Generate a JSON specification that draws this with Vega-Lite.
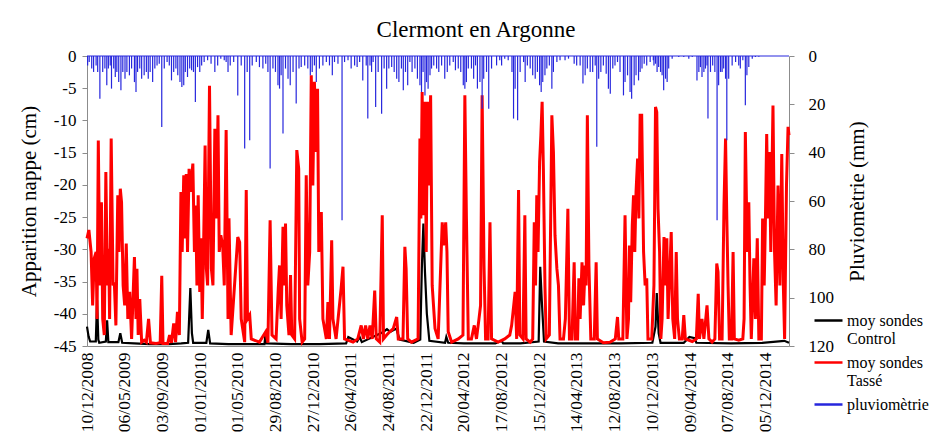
{
  "$schema": "https://vega.github.io/schema/vega-lite/v6.json",
  "width": 702,
  "height": 290,
  "autosize": "none",
  "padding": {"left": 87, "top": 56, "right": 148, "bottom": 97},
  "background": "white",
  "config": {
    "view": {"stroke": null},
    "axis": {"grid": false}
  },
  "title": {"text": "Clermont en Argonne", "font": "Liberation Serif", "fontSize": 23, "fontWeight": "normal", "color": "black", "anchor": "middle", "frame": "group", "dx": 38, "offset": 5},
  "datasets": {
    "control": [
      {"jour":0,"v":-42.0},{"jour":5,"v":-43.5},{"jour":10,"v":-44.3},{"jour":28,"v":-44.3},{"jour":32,"v":-37.9},{"jour":36,"v":-44.0},{"jour":39,"v":-44.5},{"jour":60,"v":-44.3},{"jour":64,"v":-41.0},{"jour":68,"v":-44.4},{"jour":100,"v":-44.4},{"jour":106,"v":-43.0},{"jour":112,"v":-44.5},{"jour":150,"v":-44.6},{"jour":200,"v":-44.7},{"jour":260,"v":-44.7},{"jour":300,"v":-44.6},{"jour":322,"v":-44.5},{"jour":329,"v":-36.0},{"jour":334,"v":-43.0},{"jour":338,"v":-44.5},{"jour":380,"v":-44.5},{"jour":386,"v":-42.5},{"jour":392,"v":-44.6},{"jour":450,"v":-44.7},{"jour":520,"v":-44.7},{"jour":565,"v":-44.7},{"jour":568,"v":-43.3},{"jour":572,"v":-44.6},{"jour":650,"v":-44.7},{"jour":740,"v":-44.7},{"jour":825,"v":-44.6},{"jour":832,"v":-43.6},{"jour":860,"v":-44.3},{"jour":868,"v":-43.6},{"jour":875,"v":-44.4},{"jour":940,"v":-42.9},{"jour":955,"v":-42.4},{"jour":965,"v":-42.8},{"jour":985,"v":-42.3},{"jour":995,"v":-44.0},{"jour":1040,"v":-44.5},{"jour":1061,"v":-44.0},{"jour":1066,"v":-33.0},{"jour":1071,"v":-26.0},{"jour":1076,"v":-33.5},{"jour":1082,"v":-40.0},{"jour":1090,"v":-44.2},{"jour":1140,"v":-44.5},{"jour":1144,"v":-43.6},{"jour":1150,"v":-44.5},{"jour":1200,"v":-44.6},{"jour":1260,"v":-44.6},{"jour":1300,"v":-44.6},{"jour":1320,"v":-44.2},{"jour":1325,"v":-44.6},{"jour":1380,"v":-44.6},{"jour":1438,"v":-44.3},{"jour":1443,"v":-32.7},{"jour":1448,"v":-38.0},{"jour":1455,"v":-44.3},{"jour":1500,"v":-44.6},{"jour":1600,"v":-44.6},{"jour":1700,"v":-44.6},{"jour":1800,"v":-44.5},{"jour":1810,"v":-42.0},{"jour":1814,"v":-36.8},{"jour":1820,"v":-43.0},{"jour":1826,"v":-44.5},{"jour":1900,"v":-44.5},{"jour":1918,"v":-43.6},{"jour":1935,"v":-43.8},{"jour":1940,"v":-44.5},{"jour":2050,"v":-44.6},{"jour":2150,"v":-44.5},{"jour":2220,"v":-44.2},{"jour":2235,"v":-44.5}
    ],
    "tasse": [
      {"jour":0,"v":-28.3},{"jour":6,"v":-27.0},{"jour":13,"v":-30.4},{"jour":18,"v":-38.7},{"jour":23,"v":-31.4},{"jour":29,"v":-30.4},{"jour":32,"v":-40.8},{"jour":36,"v":-13.1},{"jour":41,"v":-35.6},{"jour":46,"v":-22.7},{"jour":50,"v":-40.8},{"jour":55,"v":-43.3},{"jour":60,"v":-18.0},{"jour":65,"v":-35.6},{"jour":69,"v":-29.9},{"jour":72,"v":-40.8},{"jour":77,"v":-12.8},{"jour":83,"v":-35.6},{"jour":87,"v":-35.1},{"jour":92,"v":-41.8},{"jour":98,"v":-21.6},{"jour":102,"v":-30.4},{"jour":106,"v":-20.6},{"jour":110,"v":-22.7},{"jour":115,"v":-35.6},{"jour":120,"v":-38.7},{"jour":125,"v":-29.1},{"jour":130,"v":-40.8},{"jour":136,"v":-36.6},{"jour":142,"v":-43.9},{"jour":151,"v":-31.2},{"jour":156,"v":-40.8},{"jour":159,"v":-33.0},{"jour":163,"v":-43.3},{"jour":168,"v":-37.7},{"jour":174,"v":-44.4},{"jour":182,"v":-44.1},{"jour":189,"v":-44.4},{"jour":196,"v":-40.8},{"jour":202,"v":-44.5},{"jour":220,"v":-44.6},{"jour":233,"v":-44.5},{"jour":238,"v":-34.1},{"jour":242,"v":-44.6},{"jour":257,"v":-44.6},{"jour":263,"v":-43.3},{"jour":269,"v":-44.5},{"jour":276,"v":-41.5},{"jour":282,"v":-44.4},{"jour":288,"v":-39.7},{"jour":294,"v":-43.3},{"jour":299,"v":-21.1},{"jour":303,"v":-30.4},{"jour":308,"v":-18.5},{"jour":312,"v":-28.3},{"jour":316,"v":-18.3},{"jour":320,"v":-30.4},{"jour":325,"v":-17.5},{"jour":329,"v":-21.1},{"jour":333,"v":-19.0},{"jour":337,"v":-16.7},{"jour":342,"v":-30.4},{"jour":346,"v":-23.2},{"jour":350,"v":-35.6},{"jour":354,"v":-21.6},{"jour":359,"v":-36.6},{"jour":363,"v":-28.3},{"jour":367,"v":-40.8},{"jour":371,"v":-30.4},{"jour":376,"v":-13.9},{"jour":380,"v":-33.0},{"jour":384,"v":-35.6},{"jour":390,"v":-4.6},{"jour":396,"v":-33.0},{"jour":401,"v":-35.6},{"jour":407,"v":-11.3},{"jour":412,"v":-25.2},{"jour":417,"v":-9.2},{"jour":421,"v":-30.4},{"jour":426,"v":-27.8},{"jour":432,"v":-29.4},{"jour":437,"v":-35.6},{"jour":443,"v":-11.5},{"jour":449,"v":-40.8},{"jour":452,"v":-25.2},{"jour":459,"v":-43.3},{"jour":480,"v":-28.1},{"jour":486,"v":-28.9},{"jour":491,"v":-40.8},{"jour":502,"v":-44.4},{"jour":507,"v":-20.8},{"jour":511,"v":-40.8},{"jour":518,"v":-40.2},{"jour":523,"v":-43.9},{"jour":549,"v":-44.4},{"jour":569,"v":-42.8},{"jour":576,"v":-44.5},{"jour":583,"v":-25.5},{"jour":589,"v":-43.3},{"jour":602,"v":-43.9},{"jour":609,"v":-36.1},{"jour":613,"v":-32.5},{"jour":618,"v":-40.8},{"jour":624,"v":-26.5},{"jour":629,"v":-35.6},{"jour":632,"v":-26.0},{"jour":636,"v":-38.7},{"jour":643,"v":-43.3},{"jour":648,"v":-34.0},{"jour":652,"v":-43.3},{"jour":661,"v":-43.9},{"jour":668,"v":-14.6},{"jour":674,"v":-17.5},{"jour":677,"v":-40.8},{"jour":685,"v":-44.4},{"jour":693,"v":-43.9},{"jour":698,"v":-18.5},{"jour":703,"v":-35.6},{"jour":709,"v":-30.4},{"jour":714,"v":-3.0},{"jour":719,"v":-20.1},{"jour":724,"v":-4.0},{"jour":730,"v":-14.9},{"jour":734,"v":-5.1},{"jour":738,"v":-30.4},{"jour":746,"v":-24.2},{"jour":751,"v":-40.8},{"jour":762,"v":-43.9},{"jour":767,"v":-38.2},{"jour":772,"v":-43.9},{"jour":779,"v":-28.6},{"jour":783,"v":-40.8},{"jour":793,"v":-43.9},{"jour":809,"v":-36.1},{"jour":815,"v":-32.7},{"jour":820,"v":-43.9},{"jour":847,"v":-44.4},{"jour":862,"v":-43.9},{"jour":873,"v":-41.8},{"jour":880,"v":-43.9},{"jour":887,"v":-41.8},{"jour":894,"v":-43.9},{"jour":901,"v":-41.8},{"jour":908,"v":-43.9},{"jour":916,"v":-36.4},{"jour":921,"v":-43.9},{"jour":932,"v":-44.4},{"jour":940,"v":-24.7},{"jour":944,"v":-43.9},{"jour":954,"v":-43.3},{"jour":964,"v":-42.8},{"jour":975,"v":-42.3},{"jour":986,"v":-40.5},{"jour":991,"v":-43.9},{"jour":1006,"v":-43.9},{"jour":1012,"v":-29.6},{"jour":1016,"v":-33.0},{"jour":1021,"v":-43.9},{"jour":1033,"v":-44.4},{"jour":1054,"v":-43.9},{"jour":1060,"v":-12.8},{"jour":1063,"v":-25.2},{"jour":1067,"v":-5.6},{"jour":1071,"v":-24.7},{"jour":1076,"v":-7.1},{"jour":1080,"v":-30.4},{"jour":1084,"v":-7.1},{"jour":1088,"v":-20.1},{"jour":1094,"v":-6.1},{"jour":1099,"v":-35.6},{"jour":1108,"v":-42.3},{"jour":1118,"v":-43.9},{"jour":1131,"v":-25.8},{"jour":1135,"v":-29.4},{"jour":1142,"v":-25.8},{"jour":1146,"v":-30.4},{"jour":1150,"v":-42.8},{"jour":1161,"v":-44.4},{"jour":1182,"v":-43.9},{"jour":1197,"v":-43.3},{"jour":1203,"v":-6.1},{"jour":1208,"v":-25.2},{"jour":1214,"v":-43.9},{"jour":1224,"v":-43.9},{"jour":1233,"v":-41.8},{"jour":1240,"v":-43.9},{"jour":1248,"v":-40.8},{"jour":1253,"v":-38.7},{"jour":1258,"v":-6.1},{"jour":1264,"v":-32.5},{"jour":1269,"v":-43.9},{"jour":1277,"v":-43.9},{"jour":1283,"v":-25.8},{"jour":1288,"v":-43.9},{"jour":1309,"v":-44.4},{"jour":1330,"v":-43.9},{"jour":1346,"v":-43.3},{"jour":1352,"v":-41.8},{"jour":1363,"v":-36.6},{"jour":1368,"v":-43.9},{"jour":1374,"v":-20.8},{"jour":1378,"v":-43.3},{"jour":1388,"v":-43.9},{"jour":1394,"v":-24.7},{"jour":1398,"v":-43.9},{"jour":1411,"v":-44.4},{"jour":1419,"v":-43.9},{"jour":1424,"v":-25.8},{"jour":1428,"v":-35.6},{"jour":1432,"v":-21.6},{"jour":1436,"v":-30.4},{"jour":1441,"v":-16.4},{"jour":1445,"v":-12.3},{"jour":1449,"v":-7.1},{"jour":1453,"v":-17.5},{"jour":1458,"v":-35.6},{"jour":1462,"v":-43.9},{"jour":1472,"v":-43.3},{"jour":1480,"v":-9.2},{"jour":1485,"v":-14.9},{"jour":1490,"v":-27.8},{"jour":1496,"v":-33.0},{"jour":1501,"v":-35.6},{"jour":1506,"v":-43.9},{"jour":1517,"v":-43.9},{"jour":1523,"v":-40.8},{"jour":1531,"v":-23.7},{"jour":1536,"v":-43.9},{"jour":1544,"v":-43.9},{"jour":1551,"v":-32.0},{"jour":1555,"v":-43.9},{"jour":1562,"v":-43.9},{"jour":1566,"v":-34.5},{"jour":1570,"v":-40.8},{"jour":1576,"v":-32.0},{"jour":1581,"v":-38.7},{"jour":1586,"v":-32.5},{"jour":1589,"v":-35.6},{"jour":1593,"v":-9.2},{"jour":1598,"v":-32.5},{"jour":1604,"v":-43.9},{"jour":1615,"v":-43.9},{"jour":1621,"v":-32.0},{"jour":1625,"v":-43.9},{"jour":1644,"v":-44.5},{"jour":1666,"v":-44.4},{"jour":1682,"v":-43.9},{"jour":1689,"v":-40.5},{"jour":1693,"v":-43.9},{"jour":1706,"v":-43.9},{"jour":1713,"v":-24.7},{"jour":1719,"v":-43.9},{"jour":1724,"v":-40.8},{"jour":1727,"v":-29.4},{"jour":1731,"v":-38.2},{"jour":1736,"v":-26.3},{"jour":1740,"v":-21.6},{"jour":1744,"v":-30.4},{"jour":1748,"v":-21.1},{"jour":1753,"v":-15.9},{"jour":1757,"v":-25.2},{"jour":1761,"v":-9.2},{"jour":1766,"v":-9.2},{"jour":1772,"v":-30.4},{"jour":1777,"v":-35.6},{"jour":1782,"v":-34.5},{"jour":1786,"v":-43.9},{"jour":1798,"v":-43.9},{"jour":1805,"v":-35.6},{"jour":1810,"v":-7.9},{"jour":1814,"v":-8.7},{"jour":1818,"v":-23.7},{"jour":1823,"v":-30.4},{"jour":1827,"v":-43.9},{"jour":1831,"v":-40.8},{"jour":1837,"v":-28.1},{"jour":1842,"v":-35.6},{"jour":1846,"v":-28.3},{"jour":1850,"v":-40.8},{"jour":1854,"v":-35.6},{"jour":1860,"v":-27.3},{"jour":1865,"v":-40.8},{"jour":1871,"v":-43.9},{"jour":1876,"v":-30.4},{"jour":1880,"v":-40.8},{"jour":1886,"v":-43.9},{"jour":1895,"v":-43.9},{"jour":1900,"v":-40.2},{"jour":1905,"v":-43.9},{"jour":1927,"v":-44.3},{"jour":1940,"v":-43.9},{"jour":1946,"v":-36.9},{"jour":1950,"v":-43.9},{"jour":1958,"v":-40.8},{"jour":1964,"v":-43.9},{"jour":1974,"v":-38.7},{"jour":1980,"v":-43.9},{"jour":1990,"v":-44.4},{"jour":1999,"v":-43.9},{"jour":2005,"v":-32.2},{"jour":2009,"v":-33.5},{"jour":2014,"v":-43.9},{"jour":2022,"v":-43.9},{"jour":2028,"v":-23.2},{"jour":2033,"v":-12.8},{"jour":2037,"v":-25.2},{"jour":2041,"v":-35.6},{"jour":2045,"v":-43.9},{"jour":2052,"v":-43.9},{"jour":2057,"v":-30.4},{"jour":2061,"v":-43.9},{"jour":2075,"v":-44.1},{"jour":2088,"v":-43.9},{"jour":2092,"v":-40.8},{"jour":2096,"v":-11.8},{"jour":2102,"v":-30.4},{"jour":2107,"v":-22.7},{"jour":2111,"v":-35.6},{"jour":2115,"v":-43.9},{"jour":2123,"v":-31.4},{"jour":2128,"v":-40.8},{"jour":2134,"v":-28.3},{"jour":2139,"v":-43.9},{"jour":2147,"v":-43.9},{"jour":2151,"v":-25.2},{"jour":2156,"v":-35.6},{"jour":2160,"v":-25.2},{"jour":2164,"v":-12.1},{"jour":2168,"v":-25.2},{"jour":2173,"v":-14.9},{"jour":2177,"v":-30.4},{"jour":2184,"v":-7.7},{"jour":2189,"v":-30.4},{"jour":2194,"v":-38.7},{"jour":2200,"v":-20.1},{"jour":2206,"v":-35.6},{"jour":2212,"v":-15.2},{"jour":2217,"v":-35.6},{"jour":2221,"v":-43.9},{"jour":2227,"v":-20.1},{"jour":2232,"v":-11.0},{"jour":2235,"v":-12.3}
    ],
    "pluie": [
      {"jour":2,"pluie":3.9},{"jour":7,"pluie":2.5},{"jour":15,"pluie":5.2},{"jour":21,"pluie":6.6},{"jour":29,"pluie":3.9},{"jour":34,"pluie":6.6},{"jour":41,"pluie":17.7},{"jour":50,"pluie":6.6},{"jour":57,"pluie":5.2},{"jour":63,"pluie":12.1},{"jour":68,"pluie":5.2},{"jour":74,"pluie":3.9},{"jour":78,"pluie":13.5},{"jour":85,"pluie":5.2},{"jour":90,"pluie":8.7},{"jour":95,"pluie":6.6},{"jour":101,"pluie":10.8},{"jour":108,"pluie":14.2},{"jour":114,"pluie":6.6},{"jour":121,"pluie":9.4},{"jour":127,"pluie":6.6},{"jour":135,"pluie":8.0},{"jour":142,"pluie":5.2},{"jour":151,"pluie":10.8},{"jour":156,"pluie":14.9},{"jour":161,"pluie":6.6},{"jour":168,"pluie":5.2},{"jour":174,"pluie":9.4},{"jour":182,"pluie":8.0},{"jour":189,"pluie":6.6},{"jour":195,"pluie":9.4},{"jour":201,"pluie":6.6},{"jour":209,"pluie":10.8},{"jour":216,"pluie":5.2},{"jour":223,"pluie":3.9},{"jour":230,"pluie":3.2},{"jour":238,"pluie":29.4},{"jour":246,"pluie":5.2},{"jour":255,"pluie":2.5},{"jour":262,"pluie":3.9},{"jour":269,"pluie":10.1},{"jour":276,"pluie":6.6},{"jour":283,"pluie":5.2},{"jour":289,"pluie":8.0},{"jour":296,"pluie":10.8},{"jour":302,"pluie":12.8},{"jour":308,"pluie":12.1},{"jour":313,"pluie":6.6},{"jour":320,"pluie":8.7},{"jour":327,"pluie":5.2},{"jour":333,"pluie":5.9},{"jour":339,"pluie":6.6},{"jour":345,"pluie":19.0},{"jour":352,"pluie":4.6},{"jour":359,"pluie":6.6},{"jour":365,"pluie":3.9},{"jour":373,"pluie":2.5},{"jour":384,"pluie":1.8},{"jour":395,"pluie":3.2},{"jour":407,"pluie":6.6},{"jour":416,"pluie":3.9},{"jour":426,"pluie":1.1},{"jour":437,"pluie":1.8},{"jour":443,"pluie":2.5},{"jour":449,"pluie":6.6},{"jour":456,"pluie":3.9},{"jour":467,"pluie":2.5},{"jour":480,"pluie":16.3},{"jour":491,"pluie":3.9},{"jour":502,"pluie":38.3},{"jour":510,"pluie":6.6},{"jour":518,"pluie":34.9},{"jour":526,"pluie":3.9},{"jour":539,"pluie":2.5},{"jour":549,"pluie":4.6},{"jour":560,"pluie":5.2},{"jour":569,"pluie":3.2},{"jour":576,"pluie":6.6},{"jour":583,"pluie":46.6},{"jour":592,"pluie":5.2},{"jour":600,"pluie":6.6},{"jour":608,"pluie":12.1},{"jour":613,"pluie":13.5},{"jour":618,"pluie":8.0},{"jour":624,"pluie":32.1},{"jour":632,"pluie":5.2},{"jour":640,"pluie":9.4},{"jour":647,"pluie":12.1},{"jour":656,"pluie":6.6},{"jour":666,"pluie":19.7},{"jour":675,"pluie":5.2},{"jour":682,"pluie":4.6},{"jour":693,"pluie":3.9},{"jour":703,"pluie":5.2},{"jour":711,"pluie":8.0},{"jour":717,"pluie":6.6},{"jour":724,"pluie":3.9},{"jour":730,"pluie":10.8},{"jour":740,"pluie":5.2},{"jour":751,"pluie":3.9},{"jour":762,"pluie":2.5},{"jour":772,"pluie":3.9},{"jour":781,"pluie":8.0},{"jour":788,"pluie":2.5},{"jour":799,"pluie":3.2},{"jour":812,"pluie":68.0},{"jour":820,"pluie":2.5},{"jour":831,"pluie":1.8},{"jour":841,"pluie":5.2},{"jour":852,"pluie":3.9},{"jour":860,"pluie":4.6},{"jour":868,"pluie":2.5},{"jour":878,"pluie":10.1},{"jour":889,"pluie":3.9},{"jour":894,"pluie":25.9},{"jour":901,"pluie":3.9},{"jour":906,"pluie":6.6},{"jour":911,"pluie":2.5},{"jour":919,"pluie":21.1},{"jour":927,"pluie":6.6},{"jour":938,"pluie":23.9},{"jour":946,"pluie":5.2},{"jour":954,"pluie":13.5},{"jour":961,"pluie":5.2},{"jour":970,"pluie":4.6},{"jour":978,"pluie":6.6},{"jour":986,"pluie":9.4},{"jour":993,"pluie":10.8},{"jour":1001,"pluie":5.2},{"jour":1007,"pluie":14.2},{"jour":1014,"pluie":6.6},{"jour":1021,"pluie":12.1},{"jour":1028,"pluie":2.5},{"jour":1035,"pluie":6.6},{"jour":1044,"pluie":5.2},{"jour":1052,"pluie":9.4},{"jour":1060,"pluie":12.1},{"jour":1065,"pluie":14.9},{"jour":1070,"pluie":6.6},{"jour":1076,"pluie":16.3},{"jour":1081,"pluie":10.8},{"jour":1086,"pluie":13.5},{"jour":1092,"pluie":8.0},{"jour":1097,"pluie":5.2},{"jour":1104,"pluie":3.9},{"jour":1113,"pluie":5.2},{"jour":1120,"pluie":6.6},{"jour":1129,"pluie":3.9},{"jour":1139,"pluie":9.4},{"jour":1147,"pluie":6.6},{"jour":1155,"pluie":3.9},{"jour":1166,"pluie":2.5},{"jour":1173,"pluie":5.9},{"jour":1182,"pluie":5.2},{"jour":1190,"pluie":6.6},{"jour":1198,"pluie":12.1},{"jour":1203,"pluie":13.5},{"jour":1208,"pluie":10.8},{"jour":1214,"pluie":5.2},{"jour":1224,"pluie":5.2},{"jour":1231,"pluie":9.4},{"jour":1237,"pluie":3.9},{"jour":1243,"pluie":13.5},{"jour":1251,"pluie":10.8},{"jour":1258,"pluie":21.8},{"jour":1263,"pluie":9.4},{"jour":1272,"pluie":6.6},{"jour":1279,"pluie":21.8},{"jour":1288,"pluie":5.2},{"jour":1304,"pluie":3.9},{"jour":1314,"pluie":1.8},{"jour":1320,"pluie":3.9},{"jour":1330,"pluie":1.1},{"jour":1341,"pluie":1.8},{"jour":1353,"pluie":6.6},{"jour":1358,"pluie":25.9},{"jour":1363,"pluie":13.5},{"jour":1371,"pluie":26.6},{"jour":1379,"pluie":6.6},{"jour":1390,"pluie":2.5},{"jour":1395,"pluie":10.8},{"jour":1402,"pluie":3.9},{"jour":1411,"pluie":5.2},{"jour":1419,"pluie":8.0},{"jour":1427,"pluie":9.4},{"jour":1434,"pluie":6.6},{"jour":1441,"pluie":12.1},{"jour":1446,"pluie":14.9},{"jour":1451,"pluie":10.8},{"jour":1458,"pluie":8.0},{"jour":1464,"pluie":5.2},{"jour":1472,"pluie":3.9},{"jour":1480,"pluie":13.5},{"jour":1485,"pluie":6.6},{"jour":1496,"pluie":2.5},{"jour":1506,"pluie":1.8},{"jour":1522,"pluie":1.8},{"jour":1533,"pluie":1.1},{"jour":1551,"pluie":3.2},{"jour":1559,"pluie":3.9},{"jour":1570,"pluie":3.9},{"jour":1579,"pluie":11.4},{"jour":1586,"pluie":8.0},{"jour":1593,"pluie":5.2},{"jour":1602,"pluie":6.6},{"jour":1610,"pluie":6.6},{"jour":1618,"pluie":3.9},{"jour":1623,"pluie":37.6},{"jour":1629,"pluie":9.4},{"jour":1636,"pluie":6.6},{"jour":1644,"pluie":3.9},{"jour":1653,"pluie":7.3},{"jour":1660,"pluie":13.5},{"jour":1666,"pluie":15.6},{"jour":1674,"pluie":5.2},{"jour":1681,"pluie":3.9},{"jour":1689,"pluie":2.5},{"jour":1697,"pluie":6.6},{"jour":1708,"pluie":16.3},{"jour":1713,"pluie":10.8},{"jour":1721,"pluie":8.0},{"jour":1729,"pluie":14.9},{"jour":1734,"pluie":17.7},{"jour":1742,"pluie":12.1},{"jour":1748,"pluie":8.0},{"jour":1756,"pluie":10.1},{"jour":1761,"pluie":6.6},{"jour":1767,"pluie":5.2},{"jour":1774,"pluie":3.2},{"jour":1782,"pluie":3.9},{"jour":1793,"pluie":2.5},{"jour":1803,"pluie":1.8},{"jour":1805,"pluie":3.9},{"jour":1810,"pluie":3.2},{"jour":1815,"pluie":6.6},{"jour":1820,"pluie":4.6},{"jour":1826,"pluie":6.6},{"jour":1831,"pluie":8.0},{"jour":1836,"pluie":14.2},{"jour":1842,"pluie":9.4},{"jour":1847,"pluie":10.8},{"jour":1852,"pluie":5.2},{"jour":1863,"pluie":1.1},{"jour":1884,"pluie":0.4},{"jour":1900,"pluie":0.4},{"jour":1916,"pluie":1.1},{"jour":1927,"pluie":0.4},{"jour":1942,"pluie":10.1},{"jour":1948,"pluie":6.6},{"jour":1953,"pluie":4.6},{"jour":1958,"pluie":8.7},{"jour":1964,"pluie":6.6},{"jour":1969,"pluie":5.2},{"jour":1974,"pluie":3.9},{"jour":1977,"pluie":25.9},{"jour":1985,"pluie":6.6},{"jour":1992,"pluie":3.9},{"jour":1999,"pluie":6.6},{"jour":2006,"pluie":68.0},{"jour":2011,"pluie":12.1},{"jour":2017,"pluie":6.6},{"jour":2022,"pluie":6.6},{"jour":2027,"pluie":5.2},{"jour":2033,"pluie":9.4},{"jour":2037,"pluie":34.9},{"jour":2043,"pluie":9.4},{"jour":2054,"pluie":3.9},{"jour":2065,"pluie":2.5},{"jour":2075,"pluie":3.9},{"jour":2080,"pluie":5.2},{"jour":2088,"pluie":1.8},{"jour":2096,"pluie":20.4},{"jour":2101,"pluie":8.0},{"jour":2107,"pluie":4.6},{"jour":2118,"pluie":1.1},{"jour":2128,"pluie":0.4},{"jour":2139,"pluie":0.3}
    ]
  },
  "layer": [
    {
      "encoding": {
        "x": {"field": "jour", "type": "quantitative", "scale": {"domain": [0, 2235], "nice": false, "zero": false},
          "axis": {"title": null, "values": [0,120,240,360,480,600,720,840,960,1080,1200,1320,1440,1560,1680,1800,1920,2040,2160], "labelAngle": -90, "ticks": false, "labelPadding": 6, "labelFont": "Liberation Serif", "labelFontSize": 17.5, "labelFontWeight": "normal", "labelColor": "black", "domainColor": "#8c8c8c", "labelExpr": "['10/12/2008','06/05/2009','03/09/2009','01/01/2010','01/05/2010','29/08/2010','27/12/2010','26/04/2011','24/08/2011','22/12/2011','20/04/2012','17/08/2012','15/12/2012','14/04/2013','12/08/2013','10/12/2013','09/04/2014','07/08/2014','05/12/2014'][round(datum.value/120)]", "labelOverlap": false, "labelBound": false}},
        "y": {"field": "v", "type": "quantitative", "scale": {"domain": [-45, 0], "nice": false, "zero": false},
          "axis": {"orient": "left", "title": "Apparition nappe (cm)", "titleFont": "Liberation Serif", "titleFontSize": 21, "titleFontWeight": "normal", "titleColor": "black", "values": [0,-5,-10,-15,-20,-25,-30,-35,-40,-45], "labelFont": "Liberation Serif", "labelFontSize": 17, "labelFontWeight": "normal", "labelColor": "black", "domainColor": "#8c8c8c", "tickColor": "#8c8c8c", "labelExpr": "'' + datum.value", "tickSize": 5, "labelPadding": 6, "titlePadding": 14, "labelOverlap": false}}
      },
      "layer": [
        {"data": {"name": "control"}, "mark": {"type": "line", "strokeWidth": 2.2},
          "encoding": {"color": {"datum": "moy sondes Control", "scale": {"domain": ["moy sondes Control", "moy sondes Tassé", "pluviomètrie"], "range": ["#000000", "#ff0000", "#2626dd"]},
            "legend": {"orient": "none", "legendX": 726, "legendY": 249, "title": null, "symbolType": "stroke", "symbolSize": 784, "symbolStrokeWidth": 2.5, "labelFont": "Liberation Serif", "labelFontSize": 16, "labelFontWeight": "normal", "labelColor": "black", "rowPadding": 0, "labelOffset": 3, "labelExpr": "datum.label == 'pluviomètrie' ? datum.label : ['moy sondes', slice(datum.label, 11)]"}}}},
        {"data": {"name": "tasse"}, "mark": {"type": "line", "strokeWidth": 3},
          "encoding": {"color": {"datum": "moy sondes Tassé"}}}
      ]
    },
    {
      "layer": [
        {"data": {"name": "pluie"}, "mark": {"type": "rule", "strokeWidth": 1.2},
          "encoding": {
            "x": {"field": "jour", "type": "quantitative", "scale": {"domain": [0, 2235], "nice": false, "zero": false},
              "axis": {"title": null, "values": [0,120,240,360,480,600,720,840,960,1080,1200,1320,1440,1560,1680,1800,1920,2040,2160], "labelAngle": -90, "ticks": false, "labelPadding": 6, "labelFont": "Liberation Serif", "labelFontSize": 17.5, "labelFontWeight": "normal", "labelColor": "black", "domainColor": "#8c8c8c", "labelExpr": "['10/12/2008','06/05/2009','03/09/2009','01/01/2010','01/05/2010','29/08/2010','27/12/2010','26/04/2011','24/08/2011','22/12/2011','20/04/2012','17/08/2012','15/12/2012','14/04/2013','12/08/2013','10/12/2013','09/04/2014','07/08/2014','05/12/2014'][round(datum.value/120)]", "labelOverlap": false, "labelBound": false}},
            "y": {"field": "pluie", "type": "quantitative", "scale": {"domain": [0, 120], "reverse": true, "nice": false},
              "axis": {"orient": "right", "title": "Pluviomètrie (mm)", "titleFont": "Liberation Serif", "titleFontSize": 21, "titleFontWeight": "normal", "titleColor": "black", "titleAngle": 270, "values": [0,20,40,60,80,100,120], "labelFont": "Liberation Serif", "labelFontSize": 17, "labelFontWeight": "normal", "labelColor": "black", "domainColor": "#8c8c8c", "tickColor": "#8c8c8c", "tickSize": 5, "labelPadding": 14, "titlePadding": 34}},
            "y2": {"datum": 0},
            "color": {"datum": "pluviomètrie"}}},
        {"data": {"values": [{"pluie": 0}]}, "mark": {"type": "rule", "strokeWidth": 1},
          "encoding": {
            "y": {"field": "pluie", "type": "quantitative"},
            "color": {"datum": "pluviomètrie"}}}
      ]
    }
  ],
  "resolve": {"scale": {"y": "independent"}}
}
